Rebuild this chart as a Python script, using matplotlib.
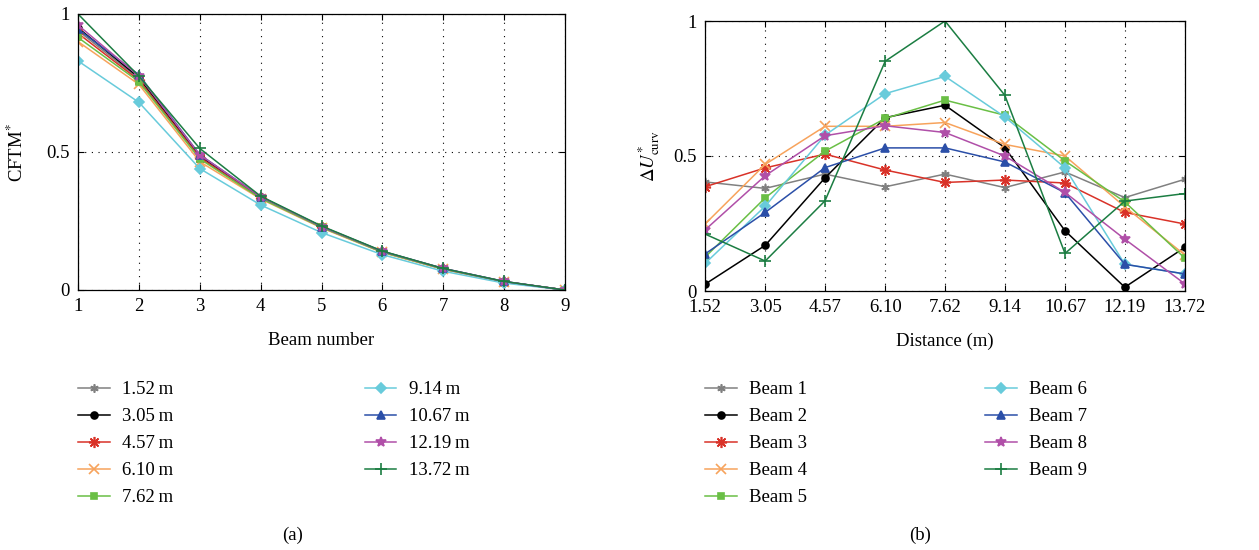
import numpy as np
import matplotlib
matplotlib.use('Agg')
import matplotlib.pyplot as plt

plt.rcParams['font.family'] = ['Liberation Serif', 'DejaVu Serif']
plt.rcParams['mathtext.fontset'] = 'stix'
plt.rcParams['font.size'] = 13.5

beams = [1, 2, 3, 4, 5, 6, 7, 8, 9]
distances = [1.52, 3.05, 4.57, 6.10, 7.62, 9.14, 10.67, 12.19, 13.72]
dist_labels = ['1.52', '3.05', '4.57', '6.10', '7.62', '9.14', '10.67', '12.19', '13.72']

# (a) CFTM* for each load position, over beam number
cftm_152 = [0.94, 0.765, 0.48, 0.335, 0.228, 0.138, 0.076, 0.03, 0.0]
cftm_305 = [0.95, 0.77, 0.485, 0.336, 0.229, 0.139, 0.077, 0.03, 0.0]
cftm_457 = [0.93, 0.76, 0.48, 0.334, 0.228, 0.138, 0.076, 0.03, 0.0]
cftm_610 = [0.90, 0.745, 0.465, 0.33, 0.225, 0.136, 0.075, 0.029, 0.0]
cftm_762 = [0.915, 0.755, 0.475, 0.332, 0.227, 0.137, 0.076, 0.03, 0.0]
cftm_914 = [0.83, 0.68, 0.44, 0.308, 0.208, 0.128, 0.068, 0.025, 0.0]
cftm_1067 = [0.945, 0.78, 0.49, 0.338, 0.23, 0.14, 0.078, 0.031, 0.0]
cftm_1219 = [0.96, 0.775, 0.49, 0.338, 0.23, 0.14, 0.078, 0.031, 0.0]
cftm_1372 = [1.0, 0.775, 0.513, 0.34, 0.232, 0.141, 0.078, 0.031, 0.0]
cftm = [cftm_152, cftm_305, cftm_457, cftm_610, cftm_762, cftm_914,
        cftm_1067, cftm_1219, cftm_1372]

# (b) normalised curvature difference for each beam, over distance
beam1 = [0.404, 0.38, 0.433, 0.386, 0.433, 0.383, 0.441, 0.346, 0.414]
beam2 = [0.025, 0.169, 0.419, 0.642, 0.688, 0.531, 0.223, 0.014, 0.162]
beam3 = [0.386, 0.456, 0.507, 0.448, 0.402, 0.411, 0.40, 0.291, 0.248]
beam4 = [0.248, 0.469, 0.61, 0.61, 0.624, 0.543, 0.50, 0.312, 0.133]
beam5 = [0.125, 0.345, 0.518, 0.639, 0.707, 0.651, 0.482, 0.33, 0.121]
beam6 = [0.102, 0.314, 0.577, 0.731, 0.795, 0.645, 0.456, 0.099, 0.063]
beam7 = [0.137, 0.291, 0.457, 0.53, 0.53, 0.478, 0.364, 0.099, 0.063]
beam8 = [0.226, 0.427, 0.575, 0.612, 0.587, 0.50, 0.365, 0.192, 0.026]
beam9 = [0.211, 0.111, 0.334, 0.851, 1.0, 0.725, 0.139, 0.333, 0.361]
dcurv = [beam1, beam2, beam3, beam4, beam5, beam6, beam7, beam8, beam9]

colors = ['#808080', '#000000', '#d93228', '#f7a35c', '#6abf45',
          '#68cbdb', '#2b4fa8', '#b04fa8', '#1b7d42']
markers = [(6, 2, 0), 'o', (8, 2, 0), 'x', 's', 'D', '^', '*', '+']
msizes = [6, 5, 8, 7, 5, 5, 6, 7, 9]

fig = plt.figure(figsize=(12.59, 5.5), dpi=100)
W, H = 1259.0, 550.0
ax1 = fig.add_axes([78 / W, 1 - 290 / H, (565 - 78) / W, (290 - 14) / H])
ax2 = fig.add_axes([705 / W, 1 - 291 / H, (1185 - 705) / W, (291 - 21) / H])

for i in range(9):
    ax1.plot(beams, cftm[i], color=colors[i], marker=markers[i], ms=msizes[i],
             lw=1.1, mew=1.2, label=dist_labels[i] + '\u2009m')
    ax2.plot(distances, dcurv[i], color=colors[i], marker=markers[i], ms=msizes[i],
             lw=1.1, mew=1.2, label='Beam %d' % (i + 1))

ax1.set_xlim(1, 9)
ax1.set_ylim(0, 1)
ax1.set_xticks(beams)
ax1.set_yticks([0, 0.5, 1])
ax1.set_yticklabels(['0', '0.5', '1'])
ax1.set_xlabel('Beam number', labelpad=12)
ax1.set_ylabel(r'CFTM$^{*}$', labelpad=14)

ax2.set_xlim(1.52, 13.72)
ax2.set_ylim(0, 1)
ax2.set_xticks(distances)
ax2.set_xticklabels(dist_labels)
ax2.set_yticks([0, 0.5, 1])
ax2.set_yticklabels(['0', '0.5', '1'])
ax2.set_xlabel('Distance (m)', labelpad=12)
ax2.set_ylabel(r'$\Delta U^{*}_{\mathrm{curv}}$', labelpad=8)

for ax in (ax1, ax2):
    ax.grid(True, color='black', linestyle=(0, (1, 5)), linewidth=0.8)
    ax.tick_params(direction='in', top=True, right=True, length=4, pad=6)
    for s in ax.spines.values():
        s.set_linewidth(0.9)

leg_kw = dict(ncol=2, frameon=False, loc='upper left', handlelength=1.7,
              handletextpad=0.65, labelspacing=0.53, borderaxespad=0,
              borderpad=0)
ax1.legend(bbox_to_anchor=(78 / W, 1 - 381 / H), bbox_transform=fig.transFigure,
           columnspacing=10.2, **leg_kw)
ax2.legend(bbox_to_anchor=(705 / W, 1 - 381 / H), bbox_transform=fig.transFigure,
           columnspacing=9.5, **leg_kw)

fig.text(293 / W, 1 - 535 / H, '(a)', ha='center', va='center')
fig.text(920 / W, 1 - 535 / H, '(b)', ha='center', va='center')

fig.savefig('out.png', dpi=100)
